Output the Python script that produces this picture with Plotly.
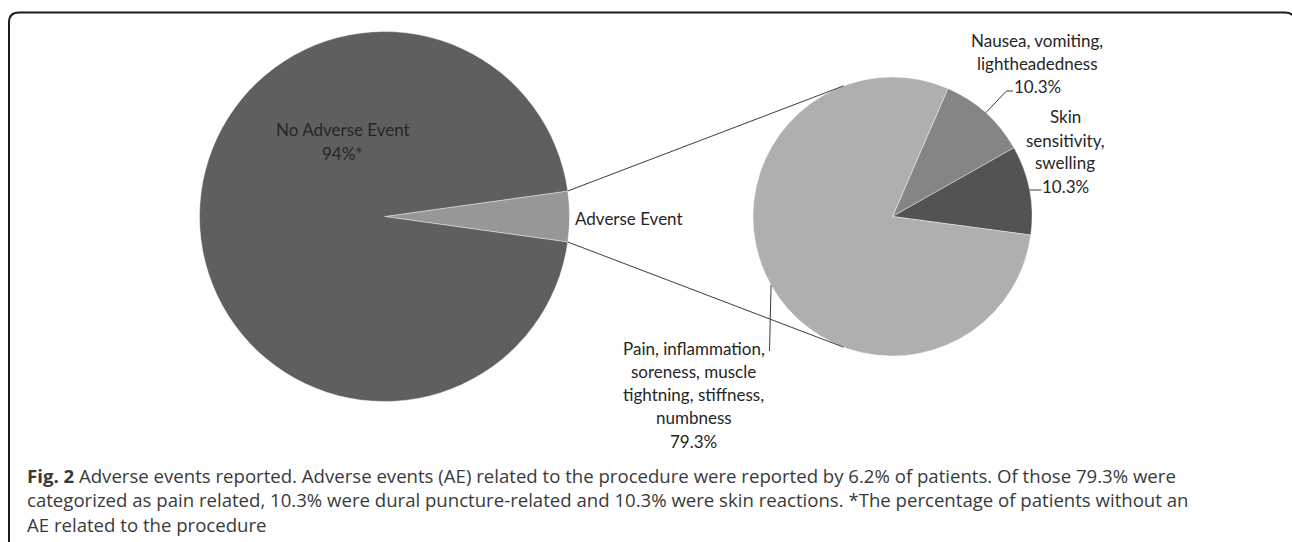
import math
import plotly.graph_objects as go

# ---------------- data ----------------
main_labels = ["Adverse Event", "No Adverse Event"]
main_values = [4.4, 95.6]          # slice sizes as drawn
main_text = ["Adverse Event", "No Adverse Event<br>94%*"]

sub_labels = ["Nausea, vomiting, lightheadedness",
              "Skin sensitivity, swelling",
              "Pain, inflammation, soreness, muscle tightning, stiffness, numbness"]
sub_values = [10.3, 10.3, 79.3]
sub_pct_text = ["10.3%", "10.3%", "79.3%"]

caption_lines = [
    "<b>Fig. 2</b> Adverse events reported. Adverse events (AE) related to the procedure were reported by 6.2% of patients. Of those 79.3% were",
    "categorized as pain related, 10.3% were dural puncture-related and 10.3% were skin reactions. *The percentage of patients without an",
    "AE related to the procedure",
]

# ---------------- layout constants ----------------
W, H = 1292, 542
main_c = (384.5, 216.5); main_r = 185
sub_c = (892.5, 216.5); sub_r = 139.5
sub_rotation = 23.4

main_colors = ["#979797", "#5f5f5f"]
sub_colors = ["#858585", "#535353", "#afafaf"]
line_col = "#3c3c3c"
label_font = dict(family="Lato", size=17, color="#262626")
cap_font = dict(family="Open Sans", size=18.6, color="#3a3a3a")


def px(x):
    return x / W


def py(y):
    return 1 - y / H


def edge(c, r, ang):
    a = math.radians(ang)
    return c[0] + r * math.sin(a), c[1] - r * math.cos(a)


def domain(c, r):
    return dict(x=[px(c[0] - r), px(c[0] + r)], y=[py(c[1] + r), py(c[1] - r)])


main_total = sum(main_values)
ae_span = 360 * main_values[0] / main_total
main_rotation = 90 - ae_span / 2

fig = go.Figure()
fig.add_trace(go.Pie(
    labels=main_labels, values=main_values, sort=False, direction="clockwise",
    rotation=main_rotation, domain=domain(main_c, main_r), textinfo="none",
    hoverinfo="label+percent", showlegend=False,
    marker=dict(colors=main_colors, line=dict(color="rgba(255,255,255,0.5)", width=0.8)),
))
fig.add_trace(go.Pie(
    labels=sub_labels, values=sub_values, sort=False, direction="clockwise",
    rotation=sub_rotation, domain=domain(sub_c, sub_r), textinfo="none",
    hoverinfo="label+percent", showlegend=False,
    marker=dict(colors=sub_colors, line=dict(color="rgba(255,255,255,0.5)", width=0.8)),
))

shapes = []


def seg(p, q, color=line_col, width=1):
    shapes.append(dict(type="line", xref="paper", yref="paper",
                       x0=px(p[0]), y0=py(p[1]), x1=px(q[0]), y1=py(q[1]),
                       line=dict(color=color, width=width)))


# connectors between pies
top_l = edge(main_c, main_r, main_rotation)
bot_l = edge(main_c, main_r, main_rotation + ae_span)
seg(top_l, edge(sub_c, sub_r, 339.5))
seg(bot_l, edge(sub_c, sub_r, 200.5))

# leader lines from slice midpoints
sub_total = sum(sub_values)
starts = []
acc = sub_rotation
for v in sub_values:
    starts.append(acc)
    acc += 360 * v / sub_total
mids = [s + 180 * v / sub_total for s, v in zip(starts, sub_values)]

m0 = edge(sub_c, sub_r, mids[0])
seg(m0, (1006.5, 91)); seg((1006.5, 91), (1013, 91))
m1 = edge(sub_c, sub_r, mids[1])
seg(m1, (1041.5, 190))
m2 = edge(sub_c, sub_r, mids[2])
seg(m2, (769.5, 351))

# frame
frame = (f"M {px(9)},{py(542)} L {px(9)},{py(22.5)} Q {px(9)},{py(12.5)} {px(19)},{py(12.5)} "
         f"L {px(1285)},{py(12.5)} Q {px(1295)},{py(12.5)} {px(1295)},{py(22.5)} L {px(1295)},{py(542)}")
shapes.append(dict(type="path", xref="paper", yref="paper", path=frame,
                   line=dict(color="#1c1c1c", width=2)))

annotations = []


def label(x, y, text, font=label_font, xanchor="center"):
    annotations.append(dict(xref="paper", yref="paper", x=px(x), y=py(y), text=text,
                            showarrow=False, xanchor=xanchor, yanchor="middle",
                            align="center", font=font))


# main pie labels
label(342.5, 129, "No Adverse Event")
label(342.5, 153, "94%*")
label(572.5, 218.5, main_text[0], xanchor="left")

# sub pie labels
label(1037, 40.5, "Nausea, vomiting,")
label(1037, 63.5, "lightheadedness")
label(1037, 86.7, sub_pct_text[0])
label(1065.3, 116.7, "Skin")
label(1065.3, 140, "sensitivity,")
label(1065.3, 162.7, "swelling")
label(1065.3, 186, sub_pct_text[1])
for i, t in enumerate(["Pain, inflammation,", "soreness, muscle", "tightning, stiffness,",
                       "numbness", sub_pct_text[2]]):
    label(693.5, 348 + 23.3 * i, t)

# caption
for i, t in enumerate(caption_lines):
    label(25, 475 + 24.5 * i, t, font=cap_font, xanchor="left")

fig.update_layout(
    width=W, height=H, margin=dict(l=0, r=0, t=0, b=0),
    paper_bgcolor="white", plot_bgcolor="white",
    shapes=shapes, annotations=annotations, showlegend=False,
)
fig.write_html("out.html", config={"displayModeBar": False},
               post_script="document.body.style.margin='0px';document.body.style.overflow='hidden';")
